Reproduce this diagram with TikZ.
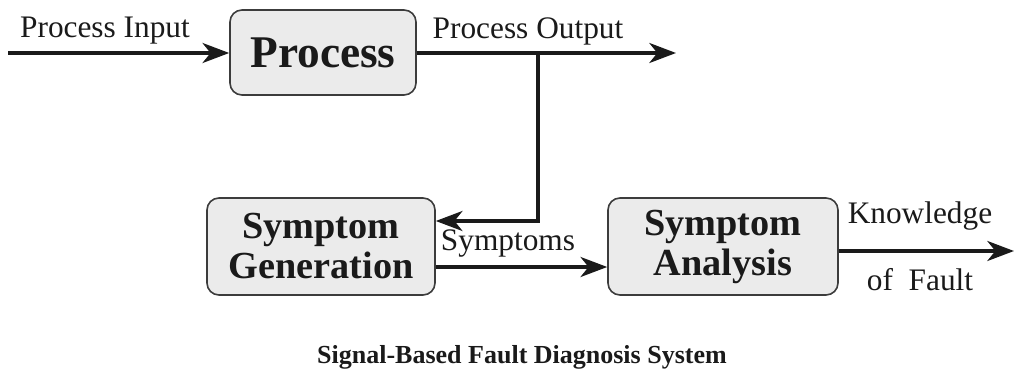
\documentclass[tikz,border=0pt]{standalone}
\usepackage{fontspec}
\setmainfont{Liberation Serif}
\usetikzlibrary{arrows.meta}
\definecolor{boxfill}{HTML}{EBEBEB}
\definecolor{ink}{HTML}{1A1A1A}
\tikzset{
  block/.style={draw=ink!85, line width=1.2pt, fill=boxfill, rounded corners=9pt,
    align=center, inner sep=0pt, font=\bfseries\fontsize{28.7}{30}\selectfont, text=ink},
  flow/.style={line width=2.6pt, draw=ink, -{Stealth[length=20pt,width=15pt,inset=6pt]}},
  lbl/.style={font=\fontsize{23.5}{25}\selectfont, text=ink, inner sep=0pt}
}
\begin{document}
\begin{tikzpicture}[x=0.75pt,y=-0.75pt]
\useasboundingbox (0,0) rectangle (1015,389);
% blocks
\node[block, minimum width=139.5pt, minimum height=63.75pt,
  font=\bfseries\fontsize{34}{36}\selectfont] (proc) at (323,52.5) {Process};
\node[block, minimum width=171pt, minimum height=72.75pt] (gen) at (321,246.5) {Symptom\\Generation};
\node[block, minimum width=172.5pt, minimum height=72.75pt] (ana) at (723,246.5) {Symptom\\Analysis};
% free ends and branch point
\coordinate (in) at (8,53);
\coordinate (out) at (676,53);
\coordinate (tap) at (538,53);
\coordinate (turn) at (538,221);
\coordinate (kout) at (1014,251);
% connectors
\draw[flow] (in) -- (proc.west |- in);
\draw[flow] (proc.east |- out) -- (out);
\draw[flow] (tap) -- (turn) -- (turn -| gen.east);
\draw[flow] (gen.east |- 0,267) -- (ana.west |- 0,267);
\draw[flow] (ana.east |- kout) -- (kout);
% labels
\node[lbl] (lin) at (105,31) {Process Input};
\node[lbl] (lout) at (528,31) {Process Output};
\node[lbl] (lsym) at (508,244) {Symptoms};
\node[lbl] (lkn) at (920,216) {Knowledge};
\node[lbl] (lof) at (920,280) {of~~Fault};
\node[font=\bfseries\fontsize{19.5}{21}\selectfont, text=ink] (title) at (522,357) {Signal-Based Fault Diagnosis System};
\end{tikzpicture}
\end{document}
